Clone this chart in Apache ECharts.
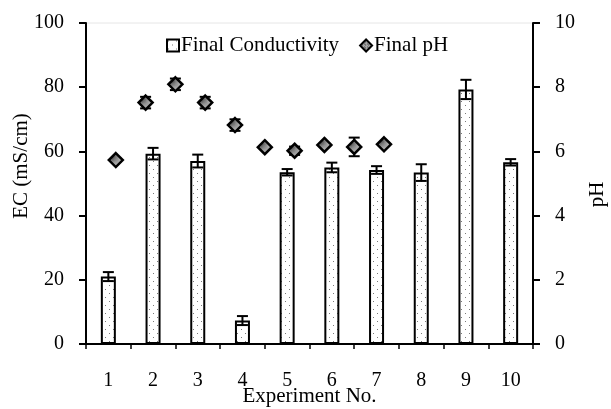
<!DOCTYPE html>
<html>
<head>
<meta charset="utf-8">
<script src="https://cdn.jsdelivr.net/npm/echarts@6/dist/echarts.min.js"></script>
<style>
html,body{margin:0;padding:0;background:#fff;}
#chart{width:611px;height:409px;}
</style>
</head>
<body>
<div id="chart"></div>
<script>
// ---- data ----
const experiments = ['1','2','3','4','5','6','7','8','9','10'];
const ecValues = [21.0, 59.3, 57.0, 7.3, 53.5, 55.0, 54.2, 53.4, 79.3, 56.6];
const ecErrors = [1.4, 1.8, 2.0, 1.4, 1.0, 1.5, 1.2, 2.6, 3.0, 1.0];
const phX = [1, 2, 3, 4, 5, 6, 7, 8, 9, 10];
const phValues = [5.73, 7.52, 8.09, 7.52, 6.82, 6.13, 6.02, 6.20, 6.14, 6.22];
const phErrors = [0.05, 0.18, 0.18, 0.18, 0.18, 0.05, 0.13, 0.05, 0.29, 0.05];
const ecTicks = [0, 20, 40, 60, 80, 100];
const phTicks = [0, 2, 4, 6, 8, 10];

const FONT = "'Liberation Serif', 'Times New Roman', serif";

// dotted fill pattern for bars
function dotPattern(bg, dot, size) {
  const c = document.createElement('canvas');
  c.width = size; c.height = size;
  const ctx = c.getContext('2d');
  ctx.fillStyle = bg; ctx.fillRect(0, 0, size, size);
  ctx.fillStyle = dot; ctx.fillRect(1, 1, 1, 1);
  ctx.fillStyle = dot; ctx.fillRect(Math.floor(size/2)+1, Math.floor(size/2)+1, 1, 1);
  return c;
}
const barPattern = { image: dotPattern('#ffffff', '#7a7a7a', 8), repeat: 'repeat' };
const diaPattern = { image: dotPattern('#a8a8a8', '#444444', 3), repeat: 'repeat' };

const chart = echarts.init(document.getElementById('chart'), null, { renderer: 'canvas' });

function errRender(capHalf) {
  return function (params, api) {
    const x = api.value(0), lo = api.value(1), hi = api.value(2);
    const pLo = api.coord([x, lo]);
    const pHi = api.coord([x, hi]);
    const style = { stroke: '#000', lineWidth: 2 };
    return {
      type: 'group',
      children: [
        { type: 'line', shape: { x1: pLo[0], y1: pLo[1], x2: pHi[0], y2: pHi[1] }, style },
        { type: 'line', shape: { x1: pHi[0]-capHalf, y1: pHi[1], x2: pHi[0]+capHalf, y2: pHi[1] }, style },
        { type: 'line', shape: { x1: pLo[0]-capHalf, y1: pLo[1], x2: pLo[0]+capHalf, y2: pLo[1] }, style }
      ]
    };
  };
}

const axisLabelStyle = { color: '#000', fontFamily: FONT, fontSize: 20 };

const option = {
  animation: false,
  backgroundColor: '#fff',
  grid: { left: 86, right: 78, top: 23, bottom: 65, containLabel: false, outerBoundsMode: 'none',
          show: true, borderColor: '#e6e6e6', borderWidth: 1 },
  legend: {
    data: [
      { name: 'Final Conductivity', icon: 'rect' },
      { name: 'Final pH', icon: 'diamond' }
    ],
    left: 161, top: 30,
    itemWidth: 12, itemHeight: 12, itemGap: 20,
    textStyle: { color: '#000', fontFamily: FONT, fontSize: 21, padding: [0, 0, 0, -3] }
  },
  xAxis: [
    {
      type: 'category', data: experiments, boundaryGap: true,
      name: 'Experiment No.', nameLocation: 'middle', nameGap: 42, nameMoveOverlap: false,
      nameTextStyle: { color: '#000', fontFamily: FONT, fontSize: 21 },
      axisLine: { lineStyle: { color: '#000', width: 2 } },
      axisTick: { show: true, inside: false, length: 5, lineStyle: { color: '#000', width: 1.5 } },
      axisLabel: Object.assign({ margin: 27 }, axisLabelStyle),
      splitLine: { show: false }
    },
    { type: 'value', min: 0, max: 15, show: false, position: 'bottom' }
  ],
  yAxis: [
    {
      type: 'value', min: ecTicks[0], max: ecTicks[ecTicks.length-1], interval: 20,
      name: 'EC (mS/cm)', nameLocation: 'middle', nameGap: 54, nameRotate: 90, nameMoveOverlap: false,
      nameTextStyle: { color: '#000', fontFamily: FONT, fontSize: 21, padding: [0, 0, 0, 35] },
      axisLine: { show: true, lineStyle: { color: '#000', width: 2 } },
      axisTick: { show: true, length: 7, lineStyle: { color: '#000', width: 2 } },
      axisLabel: Object.assign({ margin: 22 }, axisLabelStyle),
      splitLine: { show: false }
    },
    {
      type: 'value', min: phTicks[0], max: phTicks[phTicks.length-1], interval: 2, position: 'right',
      name: 'pH', nameLocation: 'middle', nameGap: 54, nameRotate: 90, nameMoveOverlap: false,
      nameTextStyle: { color: '#000', fontFamily: FONT, fontSize: 21, padding: [0, 22, 0, 0] },
      axisLine: { show: true, lineStyle: { color: '#000', width: 2 } },
      axisTick: { show: true, length: 7, lineStyle: { color: '#000', width: 2 } },
      axisLabel: Object.assign({ margin: 22 }, axisLabelStyle),
      splitLine: { show: false }
    }
  ],
  series: [
    {
      name: 'Final Conductivity', type: 'bar', xAxisIndex: 0, yAxisIndex: 0,
      data: ecValues, barWidth: 15,
      itemStyle: { color: barPattern, borderColor: '#000', borderWidth: 2 },
      z: 2
    },
    {
      name: 'ecErr', type: 'custom', xAxisIndex: 0, yAxisIndex: 0,
      renderItem: errRender(5.5),
      data: ecValues.map((v, i) => [i, v - ecErrors[i], v + ecErrors[i]]),
      z: 4, silent: true
    },
    {
      name: 'phErr', type: 'custom', xAxisIndex: 1, yAxisIndex: 1,
      renderItem: errRender(5.5),
      data: phValues.map((v, i) => [phX[i], v - phErrors[i], v + phErrors[i]]),
      z: 4, silent: true
    },
    {
      name: 'Final pH', type: 'scatter', xAxisIndex: 1, yAxisIndex: 1,
      data: phValues.map((v, i) => [phX[i], v]),
      symbol: 'diamond', symbolSize: 14,
      itemStyle: { color: diaPattern, borderColor: '#000', borderWidth: 2.5, opacity: 1 },
      z: 5
    }
  ]
};
chart.setOption(option);
</script>
</body>
</html>
